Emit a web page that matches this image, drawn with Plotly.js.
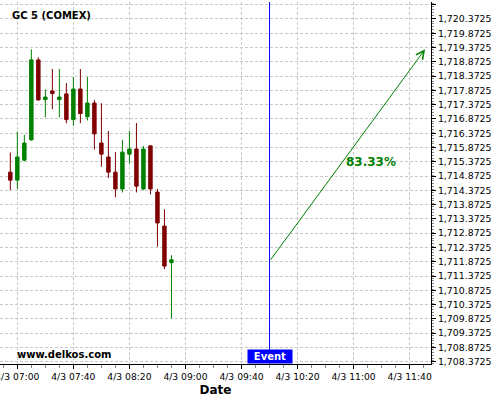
<!DOCTYPE html>
<html>
<head>
<meta charset="utf-8">
<script src="https://cdn.plot.ly/plotly-3.0.1.min.js"></script>
<style>html,body{margin:0;padding:0;background:#fff}#chart{width:500px;height:400px}</style>
</head>
<body>
<div id="chart"></div>
<script>
const times = [
  '2021-04-03 06:55','2021-04-03 07:00','2021-04-03 07:05','2021-04-03 07:10',
  '2021-04-03 07:15','2021-04-03 07:20','2021-04-03 07:25','2021-04-03 07:30',
  '2021-04-03 07:35','2021-04-03 07:40','2021-04-03 07:45','2021-04-03 07:50',
  '2021-04-03 07:55','2021-04-03 08:00','2021-04-03 08:05','2021-04-03 08:10',
  '2021-04-03 08:15','2021-04-03 08:20','2021-04-03 08:25','2021-04-03 08:30',
  '2021-04-03 08:35','2021-04-03 08:40','2021-04-03 08:45','2021-04-03 08:50'
];
const openVals  = [1715.01,1714.73,1715.43,1716.14,1718.94,1717.55,1717.85,1717.55,1717.75,1716.85,1717.92,1716.95,
                   1717.43,1716.03,1715.54,1715.01,1714.42,1715.64,1715.82,1714.42,1715.93,1714.31,1713.12,1711.84];
const highVals  = [1715.70,1716.43,1716.32,1719.31,1719.03,1717.91,1718.62,1718.62,1718.13,1718.34,1718.62,1718.34,
                   1717.54,1717.42,1716.45,1715.71,1716.14,1716.45,1716.73,1715.93,1715.93,1714.42,1713.71,1712.10];
const lowVals   = [1714.38,1714.42,1715.39,1716.11,1717.51,1716.93,1717.21,1716.93,1716.72,1716.63,1716.72,1716.82,
                   1715.80,1715.20,1714.80,1714.13,1714.30,1715.31,1714.30,1714.38,1714.23,1712.40,1711.61,1709.89];
const closeVals = [1714.73,1715.54,1716.03,1718.94,1717.54,1717.64,1717.76,1717.64,1716.85,1717.92,1717.06,1717.43,
                   1716.35,1715.64,1715.01,1714.42,1715.71,1715.82,1714.52,1715.82,1714.42,1713.23,1711.72,1711.94];

const eventTime = '2021-04-03 10:00';
const arrowStart = {x: '2021-04-03 10:00', y: 1711.89};
const arrowEnd   = {x: '2021-04-03 11:51', y: 1719.31};
const pctLabel = '83.33%';
const pctPos = {x: '2021-04-03 11:12:18', y: 1715.365};
const yTick0 = 1708.3725;
const xRange = ['2021-04-03 06:47:38', '2021-04-03 11:55:14'];
const yRange = [1708.292, 1720.967];

const trace = {
  type: 'candlestick',
  x: times, open: openVals, high: highVals, low: lowVals, close: closeVals,
  increasing: {line: {color: '#008000', width: 1}, fillcolor: '#008000'},
  decreasing: {line: {color: '#800000', width: 1}, fillcolor: '#800000'},
  whiskerwidth: 0,
  hoverinfo: 'skip',
  showlegend: false
};

const fontFam = 'DejaVu Sans, sans-serif';
const layout = {
  width: 500, height: 400,
  margin: {l: 0, r: 69, t: 2, b: 36},
  paper_bgcolor: '#fff', plot_bgcolor: '#fff',
  showlegend: false,
  xaxis: {
    type: 'date', range: xRange,
    rangeslider: {visible: false},
    tick0: '2021-04-03 07:00', dtick: 2400000,
    tickformat: '%-m/%-d %H:%M',
    ticklabeloverflow: 'allow',
    ticks: 'outside', ticklen: 4, tickcolor: '#000',
    tickfont: {family: fontFam, size: 9.2, color: '#000'},
    showline: true, linecolor: '#000', linewidth: 1,
    showgrid: true, gridcolor: '#c8c8c8', griddash: '3px,2px', gridwidth: 1,
    zeroline: false,
    minor: {dtick: 600000, ticks: 'outside', ticklen: 3, tickcolor: '#888', showgrid: false},
    title: {text: '<b>Date</b>', font: {family: fontFam, size: 12, color: '#000'}, standoff: 4}
  },
  yaxis: {
    side: 'right', range: yRange,
    tick0: yTick0, dtick: 0.5,
    tickformat: ',.4f',
    ticks: 'outside', ticklen: 4, tickcolor: '#000',
    tickfont: {family: fontFam, size: 9.4, color: '#000'},
    showline: true, linecolor: '#000', linewidth: 1,
    showgrid: true, gridcolor: '#c8c8c8', griddash: '3px,2px', gridwidth: 1,
    zeroline: false,
    minor: {dtick: 0.1, ticks: 'outside', ticklen: 2, tickcolor: '#888', showgrid: false}
  },
  shapes: [{
    type: 'line', xref: 'x', yref: 'paper', x0: eventTime, x1: eventTime, y0: 0, y1: 1,
    line: {color: '#0000ff', width: 1}
  }],
  annotations: [
    {xref: 'paper', yref: 'paper', x: 0.0232, y: 0.964, xanchor: 'left', yanchor: 'middle',
     text: '<b>GC 5 (COMEX)</b>', showarrow: false, font: {family: fontFam, size: 10, color: '#000'}},
    {xref: 'paper', yref: 'paper', x: 0.0348, y: 0.0276, xanchor: 'left', yanchor: 'middle',
     text: '<b>www.delkos.com</b>', showarrow: false, font: {family: fontFam, size: 10, color: '#000'}},
    {xref: 'x', yref: 'paper', x: eventTime, y: 0, xanchor: 'center', yanchor: 'bottom',
     text: '<b>Event</b>', showarrow: false, bgcolor: '#0000ff', width: 44, height: 13, borderpad: 0,
     font: {family: fontFam, size: 10, color: '#fff'}},
    {xref: 'x', yref: 'y', axref: 'x', ayref: 'y', x: arrowEnd.x, y: arrowEnd.y, ax: arrowStart.x, ay: arrowStart.y,
     text: '', showarrow: true, arrowhead: 5, arrowsize: 1.6, arrowwidth: 1, arrowcolor: '#008000', standoff: 0},
    {xref: 'x', yref: 'y', x: pctPos.x, y: pctPos.y, xanchor: 'center', yanchor: 'middle',
     text: '<b>' + pctLabel + '</b>', showarrow: false, font: {family: fontFam, size: 12, color: '#008000'}}
  ]
};

Plotly.newPlot('chart', [trace], layout, {staticPlot: true, displayModeBar: false});
</script>
</body>
</html>
